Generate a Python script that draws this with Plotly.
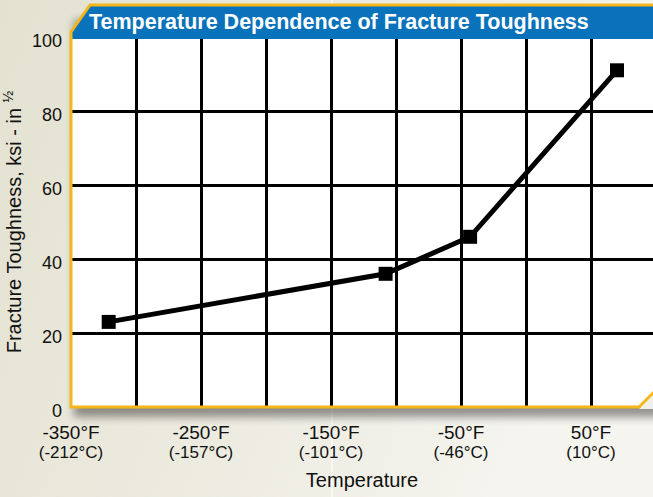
import base64
import plotly.graph_objects as go

# data
temp_f = [-321, -108, -43, 70]
toughness = [23, 36, 46, 91]

tick_f = [-350, -250, -150, -50, 50]
tick_c = [-212, -157, -101, -46, 10]
grid_f = [-350, -300, -250, -200, -150, -100, -50, 0, 50]
y_ticks = [0, 20, 40, 60, 80, 100]

# plot box in pixels
L, R, T, B = 71, 653, 37, 407
W, H = R - L, B - T
BLUE = "#0a72bb"
GOLD = "#f5b61c"
FONT = "Liberation Sans, Arial, sans-serif"


def px(x):
    return (x - L) / W


def py(y):
    return (B - y) / H


def path(points):
    return "M " + " L ".join(f"{px(x)},{py(y)}" for x, y in points) + " Z"


f_labels = [f"{f}°F" if f in tick_f else " " for f in grid_f]
c_labels = [f"({c}°C)" for c in tick_c]

bg_svg = f"""<svg xmlns="http://www.w3.org/2000/svg" width="653" height="497">
<defs>
<linearGradient id="g" x1="0" y1="0" x2="1" y2="0.3">
<stop offset="0" stop-color="#e3e1d0"/><stop offset="1" stop-color="#f5f4ee"/>
</linearGradient>
<filter id="b" x="-0.2" y="-0.2" width="1.4" height="1.4"><feGaussianBlur stdDeviation="4"/></filter>
</defs>
<rect width="653" height="497" fill="url(#g)"/>
<rect x="331" y="0" width="2" height="497" fill="#ffffff" opacity="0.5"/>
<rect x="74" y="20" width="620" height="397" fill="#000" opacity="0.4" filter="url(#b)"/>
</svg>"""
bg_uri = "data:image/svg+xml;base64," + base64.b64encode(bg_svg.encode()).decode()

fig = go.Figure()
fig.add_trace(go.Scatter(
    x=temp_f,
    y=toughness,
    mode="lines+markers",
    line=dict(color="black", width=5),
    marker=dict(symbol="square", size=14, color="black"),
    showlegend=False
))
# invisible copy so the celsius axis gets drawn
fig.add_trace(go.Scatter(
    x=temp_f, y=toughness, xaxis="x2", mode="lines",
    line=dict(width=0), hoverinfo="skip", showlegend=False
))

axis_common = dict(zeroline=False, showline=False, ticks="", automargin=False)

fig.update_layout(
    width=653,
    height=497,
    margin=dict(l=L, r=0, t=T, b=497 - B),
    paper_bgcolor="#ebe9dc",
    plot_bgcolor="rgba(0,0,0,0)",
    font=dict(family=FONT, color="#111", size=18),
    images=[dict(
        source=bg_uri, xref="paper", yref="paper",
        x=px(0), y=py(0), sizex=653 / W, sizey=497 / H,
        xanchor="left", yanchor="top", sizing="stretch", layer="below"
    )],
    shapes=[
        # white plot panel
        dict(type="rect", xref="paper", yref="paper", x0=0, x1=1.05, y0=0, y1=1,
             fillcolor="white", line_width=0, layer="below"),
        # cut corner bottom right
        dict(type="path", xref="paper", yref="paper",
             path=path([(639, 409), (662, 409), (662, 386)]),
             fillcolor="#f1f0e8", line_width=0, layer="above"),
        # title banner
        dict(type="path", xref="paper", yref="paper",
             path=path([(71, 39), (71, 32), (90, 5), (662, 5), (662, 39)]),
             fillcolor=BLUE, line_width=0, layer="above"),
        # gold frame
        dict(type="path", xref="paper", yref="paper",
             path=path([(71, 407), (639, 407), (662, 384), (662, 5), (90, 5), (71, 32)]),
             line=dict(color=GOLD, width=3), layer="above"),
    ],
    annotations=[dict(
        text="<b>Temperature Dependence of Fracture Toughness</b>",
        xref="paper", yref="paper", x=px(87), y=py(22),
        xanchor="left", yanchor="middle", showarrow=False,
        font=dict(family=FONT, size=21.5, color="white")
    )],
    xaxis=dict(
        range=[-350, -350 + W / 1.3],
        tickvals=grid_f,
        ticktext=f_labels,
        tickfont=dict(size=19),
        ticklabelstandoff=12,
        showgrid=True, gridcolor="black", gridwidth=2.5,
        title=dict(text="Temperature", font=dict(size=20), standoff=30),
        **axis_common
    ),
    xaxis2=dict(
        overlaying="x", matches="x", side="bottom", anchor="y",
        tickvals=tick_f,
        ticktext=c_labels,
        tickfont=dict(size=17),
        ticklabelstandoff=33,
        showgrid=False,
        **axis_common
    ),
    yaxis=dict(
        range=[0, 100],
        tickvals=y_ticks,
        tickfont=dict(size=18),
        ticklabelstandoff=8,
        ticklabelshift=4,
        showgrid=True, gridcolor="black", gridwidth=2.5,
        title=dict(text="Fracture Toughness, ksi - in <sup>½</sup>", font=dict(size=20), standoff=6),
        **axis_common
    ),
)

# drop the browser's default page margin so the figure sits at the corner
fig.write_html(
    "out.html",
    config={"displayModeBar": False},
    post_script="document.body.style.margin='0px';"
)
